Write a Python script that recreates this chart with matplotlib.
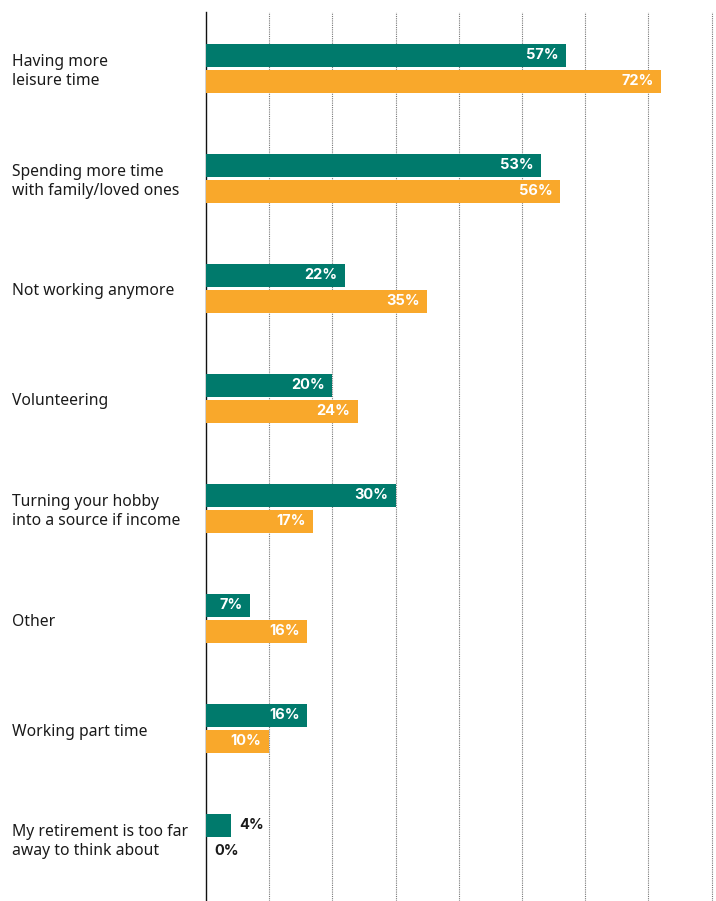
import numpy as np
import matplotlib
matplotlib.use("Agg")
from matplotlib import pyplot as plt

categories = [
    "Having more\nleisure time",
    "Spending more time\nwith family/loved ones",
    "Not working anymore",
    "Volunteering",
    "Turning your hobby\ninto a source if income",
    "Other",
    "Working part time",
    "My retirement is too far\naway to think about",
]
teal_vals = [57, 53, 22, 20, 30, 7, 16, 4]
orange_vals = [72, 56, 35, 24, 17, 16, 10, 0]

TEAL = "#007A6C"
ORANGE = "#F9A82B"

plt.rcParams['font.family'] = ['Noto Sans', 'DejaVu Sans']

fig = plt.figure(figsize=(7.16, 9.01), dpi=100)
ax = fig.add_axes([206 / 716, 0.0, 1 - 206 / 716, (901 - 12) / 901])

y = np.arange(len(categories))
h = 0.21
off = 0.118
ax.barh(y - off, teal_vals, height=h, color=TEAL, zorder=3)
ax.barh(y + off, orange_vals, height=h, color=ORANGE, zorder=3)

# value labels: white inside long bars, dark outside tiny ones
num_font = dict(family=['Inter', 'DejaVu Sans'], fontweight="bold", fontsize=10.5)
for yy, vals in ((y - off, teal_vals), (y + off, orange_vals)):
    for yi, v in zip(yy, vals):
        if v >= 7:
            ax.text(v - 1.2, yi, f"{v}%", color="white", ha="right",
                    va="center", zorder=4, **num_font)
        else:
            ax.text(v + 1.3, yi, f"{v}%", color="#1a1a1a", ha="left",
                    va="center", zorder=4, **num_font)

for yi, lab in zip(y, categories):
    ax.annotate(lab, xy=(12 / 716, yi + 0.03), xycoords=("figure fraction", "data"),
                fontsize=11.3, color="#1a1a1a", ha="left", va="center",
                linespacing=1.25, annotation_clip=False)

ax.set_xlim(0, 80.7)
ax.set_ylim(7.57, -0.51)
ax.set_xticks(np.arange(10, 81, 10))
ax.xaxis.grid(True, linestyle=(0, (1, 1)), color="#777777", linewidth=0.8, zorder=0)
ax.set_yticks([])
ax.tick_params(axis="x", length=0, labelbottom=False)
for s in ("top", "right", "bottom"):
    ax.spines[s].set_visible(False)
ax.spines["left"].set_color("#111111")
ax.spines["left"].set_linewidth(1.0)

fig.savefig("out.png", dpi=100)
